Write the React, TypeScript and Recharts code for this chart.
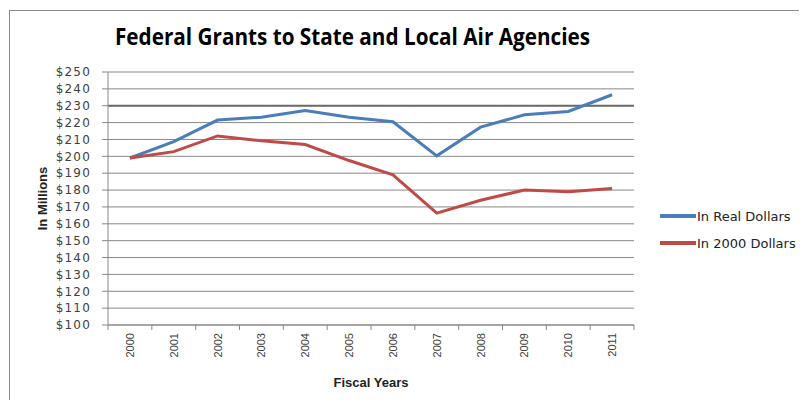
import React from 'react';
import { LineChart, Line, XAxis, YAxis, CartesianGrid, Legend, ReferenceLine } from 'recharts';

const years = ['2000', '2001', '2002', '2003', '2004', '2005', '2006', '2007', '2008', '2009', '2010', '2011'];
const realDollars = [199, 208.7, 221.5, 223.2, 227.2, 223.2, 220.5, 200.3, 217.3, 224.6, 226.6, 236.5];
const dollars2000 = [199, 202.8, 212.1, 209.2, 207, 197.5, 189, 166.3, 174, 180, 179, 181];
const yTicks = [100, 110, 120, 130, 140, 150, 160, 170, 180, 190, 200, 210, 220, 230, 240, 250];
const seriesNames = ['In Real Dollars', 'In 2000 Dollars'];
const seriesColors = ['#4A7EBB', '#BE4B48'];

const data = years.map((y, i) => ({ year: y, real: realDollars[i], y2000: dollars2000[i] }));

const GRID = '#878787';
const TEXT = '#404040';

const XTick = (props: any) => {
  const { x, y, payload, index } = props;
  const off = payload && payload.offset ? payload.offset : 21.9;
  return (
    <g>
      <line x1={x - off} y1={y} x2={x - off} y2={y + 5} stroke={GRID} strokeWidth={1} />
      {index === years.length - 1 && (
        <line x1={x + off} y1={y} x2={x + off} y2={y + 5} stroke={GRID} strokeWidth={1} />
      )}
      <text
        x={x}
        y={y + 8}
        transform={`rotate(-90, ${x}, ${y + 8})`}
        textAnchor="end"
        dominantBaseline="central"
        fontFamily="Liberation Sans, Arial, sans-serif"
        fontSize={11}
        fill={TEXT}
      >
        {payload.value}
      </text>
    </g>
  );
};

const YLabel = (props: any) => {
  const vb = props.viewBox || {};
  const cx = 34;
  const cy = vb.y + vb.height / 2;
  return (
    <text
      x={cx}
      y={cy}
      transform={`rotate(-90, ${cx}, ${cy})`}
      textAnchor="middle"
      dominantBaseline="central"
      fontFamily="Liberation Sans, Arial, sans-serif"
      fontWeight="bold"
      fontSize={13}
      fill="#222"
    >
      In Millions
    </text>
  );
};

const LegendContent = () => (
  <div style={{ display: 'flex', flexDirection: 'column', gap: 11 }}>
    {seriesNames.map((n, i) => (
      <div key={n} style={{ display: 'flex', alignItems: 'center', height: 16 }}>
        <svg width={36} height={6} style={{ display: 'block' }}>
          <line x1={0} y1={3} x2={36} y2={3} stroke={seriesColors[i]} strokeWidth={4} />
        </svg>
        <span
          style={{
            marginLeft: 1,
            fontFamily: 'DejaVu Sans, sans-serif',
            fontSize: 13,
            color: '#222',
            whiteSpace: 'nowrap',
          }}
        >
          {n}
        </span>
      </div>
    ))}
  </div>
);

export default function App() {
  return (
    <div style={{ position: 'relative', width: 799, height: 392, overflow: 'hidden', background: '#fff' }}>
      <div
        style={{
          position: 'absolute',
          left: 1,
          top: 2,
          width: 900,
          height: 500,
          border: '1px solid #8a8a8a',
        }}
      />
      <svg style={{ position: 'absolute', left: 0, top: 0 }} width={799} height={60}>
        <text
          x={344.5}
          y={37}
          textAnchor="middle"
          fontFamily="Open Sans, sans-serif"
          fontWeight="bold"
          fontSize={24}
          textLength={475}
          lengthAdjust="spacingAndGlyphs"
          fill="#000"
        >
          Federal Grants to State and Local Air Agencies
        </text>
      </svg>
      <div style={{ position: 'absolute', left: 0, top: 0 }}>
        <LineChart
          width={799}
          height={392}
          data={data}
          margin={{ top: 64, right: 173, bottom: 0, left: 0 }}
        >
          <CartesianGrid vertical={false} stroke={GRID} strokeWidth={1} />
          <ReferenceLine y={230} stroke="#6a6a6a" strokeWidth={2} ifOverflow="visible" />
          <XAxis
            dataKey="year"
            scale="band"
            interval={0}
            height={75}
            tickSize={0}
            tickMargin={0}
            tickLine={false}
            axisLine={{ stroke: GRID }}
            tick={<XTick />}
            label={{
              value: 'Fiscal Years',
              position: 'insideBottom',
              offset: 13,
              fontFamily: 'Liberation Sans, Arial, sans-serif',
              fontWeight: 'bold',
              fontSize: 13,
              fill: '#222',
            }}
          />
          <YAxis
            width={100}
            domain={[100, 250]}
            ticks={yTicks}
            interval={0}
            tickFormatter={(v: number) => `$${v}`}
            tickSize={6}
            tickMargin={11}
            tickLine={{ stroke: GRID }}
            axisLine={{ stroke: GRID }}
            tick={{ fill: TEXT, fontSize: 12, fontFamily: 'DejaVu Sans, sans-serif', letterSpacing: 1.2 }}
            label={<YLabel />}
          />
          <Legend
            layout="vertical"
            verticalAlign="middle"
            align="center"
            content={<LegendContent />}
            wrapperStyle={{ position: 'absolute', left: 652, top: 200, width: 150 }}
          />
          <Line
            type="linear"
            dataKey="real"
            name={seriesNames[0]}
            stroke={seriesColors[0]}
            strokeWidth={3}
            dot={false}
            isAnimationActive={false}
          />
          <Line
            type="linear"
            dataKey="y2000"
            name={seriesNames[1]}
            stroke={seriesColors[1]}
            strokeWidth={3}
            dot={false}
            isAnimationActive={false}
          />
        </LineChart>
      </div>
    </div>
  );
}
